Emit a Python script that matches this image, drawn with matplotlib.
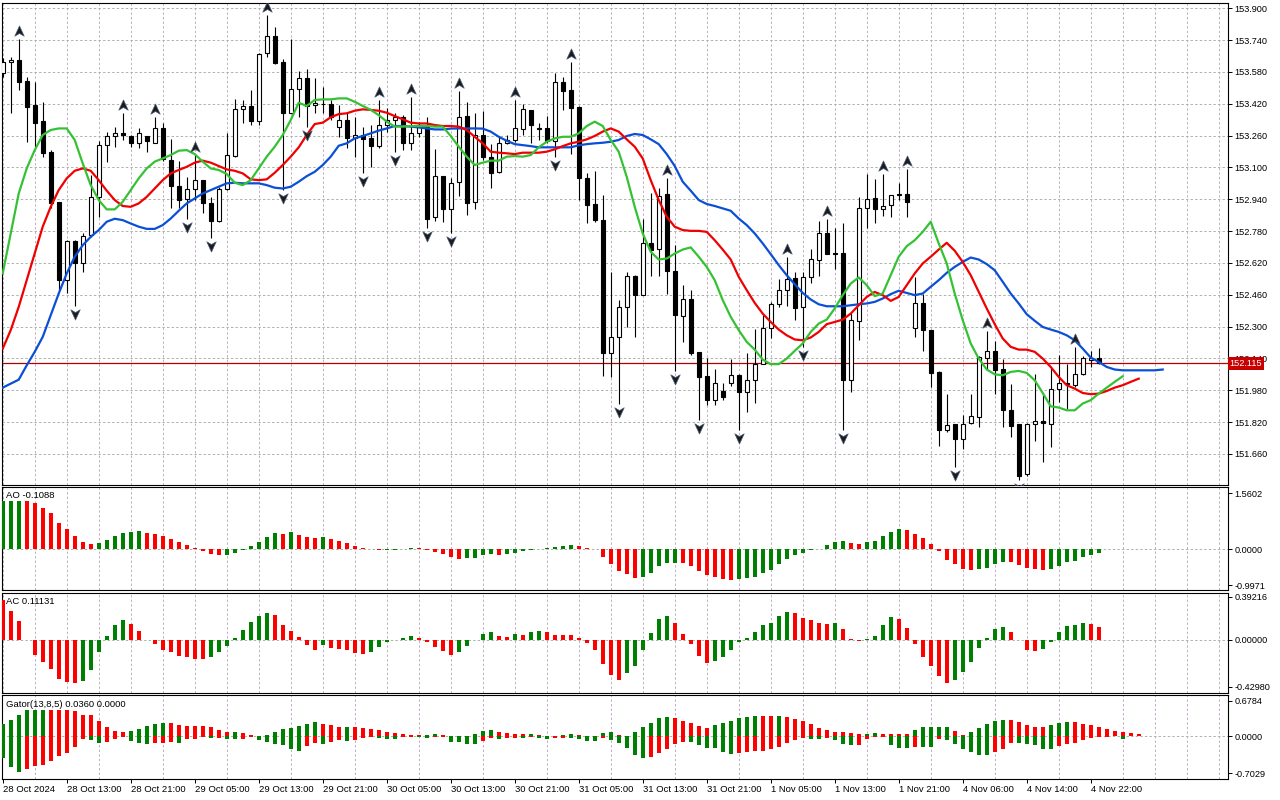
import numpy as np
import matplotlib.pyplot as plt
from matplotlib.path import Path
from matplotlib import transforms

plt.rcParams['font.family'] = ['Liberation Sans', 'DejaVu Sans']
plt.rcParams['font.size'] = 6.6

# ---- hourly candles (28 Oct 05:00 .. 4 Nov 23:00) ----
opens = [153.573, 153.628, 153.640, 153.534, 153.414, 153.333, 153.179, 152.927, 152.533, 152.729,
         152.617, 152.760, 152.949, 153.211, 153.258, 153.271, 153.258, 153.224, 153.258, 153.224,
         153.296, 153.137, 153.009, 152.939, 152.989, 153.036, 152.922, 152.832, 152.989, 153.157,
         153.395, 153.409, 153.335, 153.674, 153.761, 153.632, 153.375, 153.493, 153.548, 153.414,
         153.419, 153.419, 153.301, 153.338, 153.246, 153.261, 153.249, 153.207, 153.313, 153.338,
         153.352, 153.224, 153.271, 153.305, 152.852, 153.057, 152.889, 153.028, 153.358, 152.927,
         153.261, 153.150, 153.078, 153.224, 153.238, 153.291, 153.389, 153.296, 153.296, 153.234,
         153.528, 153.489, 153.402, 153.045, 152.916, 152.838, 152.168, 152.245, 152.399, 152.553,
         152.461, 152.718, 152.692, 152.966, 152.577, 152.352, 152.441, 152.173, 152.050, 151.933,
         151.975, 152.017, 152.055, 151.971, 152.030, 152.114, 152.295, 152.412, 152.483, 152.542,
         152.396, 152.547, 152.637, 152.771, 152.671, 152.671, 152.030, 152.329, 152.894, 152.944,
         152.889, 152.911, 152.963, 152.964, 152.295, 152.416, 152.285, 152.072, 151.782, 151.809,
         151.737, 151.815, 151.845, 152.144, 152.178, 152.089, 151.882, 151.809, 151.557, 151.809,
         151.825, 151.812, 151.988, 152.013, 152.005, 152.060, 152.134, 152.144]
highs = [153.649, 153.657, 153.744, 153.556, 153.531, 153.427, 153.187, 152.927, 152.734, 152.734,
         152.768, 153.061, 153.234, 153.279, 153.305, 153.372, 153.264, 153.296, 153.259, 153.355,
         153.321, 153.241, 153.130, 153.053, 153.162, 153.036, 152.952, 153.003, 153.271, 153.442,
         153.439, 153.489, 153.674, 153.867, 153.808, 153.643, 153.744, 153.586, 153.593, 153.548,
         153.503, 153.439, 153.414, 153.372, 153.355, 153.305, 153.313, 153.439, 153.397, 153.372,
         153.363, 153.456, 153.330, 153.355, 153.191, 153.057, 153.045, 153.486, 153.430, 153.372,
         153.385, 153.217, 153.258, 153.263, 153.439, 153.419, 153.389, 153.321, 153.358, 153.576,
         153.553, 153.632, 153.409, 153.073, 153.083, 152.961, 152.575, 152.436, 152.575, 152.558,
         152.843, 152.969, 152.994, 153.045, 152.709, 152.508, 152.486, 152.173, 152.144, 152.089,
         152.017, 152.139, 152.060, 152.168, 152.290, 152.357, 152.424, 152.537, 152.651, 152.575,
         152.575, 152.692, 152.832, 152.843, 152.793, 152.822, 152.369, 152.952, 153.067, 153.040,
         153.067, 152.961, 153.020, 153.090, 152.547, 152.463, 152.285, 152.077, 151.963, 151.812,
         151.854, 151.960, 152.151, 152.278, 152.228, 152.139, 152.010, 151.812, 151.815, 152.064,
         151.963, 152.097, 152.156, 152.114, 152.198, 152.151, 152.178, 152.190]
lows = [153.556, 153.375, 153.489, 153.229, 153.204, 153.154, 152.894, 152.483, 152.469, 152.402,
        152.575, 152.748, 152.849, 153.129, 153.204, 153.238, 153.201, 153.196, 153.179, 153.221,
        153.134, 152.894, 152.894, 152.843, 152.936, 152.869, 152.743, 152.827, 152.986, 153.154,
        153.325, 153.313, 153.313, 153.654, 153.620, 152.986, 153.372, 153.355, 153.305, 153.372,
        153.372, 153.338, 153.254, 153.196, 153.154, 153.070, 153.103, 153.196, 153.279, 153.179,
        153.187, 153.187, 153.254, 152.793, 152.832, 152.827, 152.768, 152.956, 152.860, 152.889,
        153.137, 152.999, 153.073, 153.217, 153.229, 153.263, 153.221, 153.238, 153.221, 153.154,
        153.389, 153.167, 152.936, 152.822, 152.827, 152.050, 152.047, 151.913, 152.298, 152.245,
        152.458, 152.553, 152.553, 152.466, 152.077, 152.223, 152.156, 151.829, 151.904, 151.904,
        151.929, 152.000, 151.778, 151.871, 151.916, 152.111, 152.240, 152.399, 152.402, 152.332,
        152.198, 152.520, 152.553, 152.664, 152.587, 151.782, 151.971, 152.231, 152.793, 152.822,
        152.855, 152.849, 152.936, 152.852, 152.245, 152.178, 151.996, 151.698, 151.770, 151.594,
        151.686, 151.809, 151.795, 152.084, 151.963, 151.795, 151.745, 151.527, 151.547, 151.725,
        151.619, 151.695, 151.921, 151.888, 151.996, 152.055, 152.097, 152.114]
closes = [153.632, 153.640, 153.531, 153.405, 153.325, 153.174, 152.922, 152.533, 152.729, 152.620,
          152.755, 152.949, 153.211, 153.258, 153.271, 153.261, 153.224, 153.271, 153.234, 153.298,
          153.140, 153.009, 152.936, 152.989, 153.036, 152.919, 152.832, 152.989, 153.162, 153.392,
          153.409, 153.335, 153.670, 153.761, 153.627, 153.375, 153.493, 153.548, 153.409, 153.422,
          153.418, 153.352, 153.338, 153.246, 153.261, 153.241, 153.207, 153.311, 153.338, 153.355,
          153.224, 153.271, 153.305, 152.843, 153.057, 152.889, 153.023, 153.352, 152.922, 153.261,
          153.150, 153.073, 153.224, 153.238, 153.296, 153.392, 153.313, 153.295, 153.234, 153.528,
          153.486, 153.397, 153.045, 152.911, 152.835, 152.168, 152.248, 152.396, 152.553, 152.461,
          152.718, 152.687, 152.956, 152.580, 152.357, 152.441, 152.168, 152.047, 151.933, 152.017,
          151.946, 152.055, 151.971, 152.030, 152.114, 152.295, 152.412, 152.483, 152.537, 152.391,
          152.547, 152.642, 152.771, 152.667, 152.667, 152.033, 152.335, 152.894, 152.939, 152.889,
          152.906, 152.961, 152.964, 152.927, 152.416, 152.285, 152.067, 151.782, 151.804, 151.737,
          151.812, 151.849, 152.148, 152.178, 152.084, 151.882, 151.799, 151.547, 151.809, 151.825,
          151.815, 151.988, 152.017, 152.017, 152.060, 152.144, 152.144, 152.115]
last_price = 152.115

# fractal bars
fractal_up = [2, 15, 19, 24, 33, 47, 51, 57, 64, 71, 83, 98, 103, 110, 113, 123, 134]
fractal_down = [9, 23, 26, 35, 38, 45, 49, 53, 56, 69, 77, 84, 87, 92, 100, 105, 119, 127]

# Alligator (already shifted forward)
jaw = [151.993, 152.013, 152.033, 152.105, 152.173, 152.248, 152.357, 152.466, 152.567, 152.651,
       152.709, 152.751, 152.785, 152.827, 152.842, 152.835, 152.818, 152.802, 152.791, 152.791,
       152.810, 152.843, 152.882, 152.919, 152.944, 152.969, 152.986, 153.003, 153.020, 153.023,
       153.020, 153.020, 153.020, 153.011, 152.998, 152.994, 153.003, 153.028, 153.056, 153.078,
       153.112, 153.154, 153.209, 153.221, 153.246, 153.258, 153.271, 153.285, 153.296, 153.308,
       153.308, 153.305, 153.301, 153.296, 153.291, 153.291, 153.295, 153.296, 153.296, 153.296,
       153.295, 153.280, 153.254, 153.234, 153.217, 153.212, 153.207, 153.201, 153.201, 153.201,
       153.201, 153.201, 153.211, 153.217, 153.221, 153.224, 153.229, 153.238, 153.258, 153.268,
       153.263, 153.241, 153.217, 153.167, 153.107, 153.028, 152.983, 152.936, 152.916, 152.906,
       152.894, 152.882, 152.843, 152.810, 152.768, 152.718, 152.664, 152.609, 152.558, 152.513,
       152.469, 152.436, 152.412, 152.402, 152.402, 152.402, 152.407, 152.412, 152.416, 152.424,
       152.441, 152.463, 152.480, 152.469, 152.458, 152.466, 152.500, 152.533, 152.570, 152.600,
       152.625, 152.647, 152.637, 152.614, 152.583, 152.525, 152.466, 152.416, 152.362, 152.329,
       152.298, 152.285, 152.273, 152.256, 152.231, 152.189, 152.144, 152.122, 152.097, 152.084,
       152.080, 152.080, 152.080, 152.080, 152.080, 152.084]
teeth = [152.189, 152.282, 152.399, 152.533, 152.667, 152.802, 152.902, 152.986, 153.045, 153.083,
         153.095, 153.083, 153.036, 152.983, 152.936, 152.906, 152.902, 152.919, 152.952, 152.994,
         153.036, 153.070, 153.087, 153.103, 153.124, 153.134, 153.124, 153.107, 153.090, 153.083,
         153.070, 153.040, 153.036, 153.040, 153.073, 153.112, 153.154, 153.201, 153.263, 153.318,
         153.325, 153.352, 153.368, 153.372, 153.385, 153.392, 153.389, 153.385, 153.375, 153.358,
         153.342, 153.325, 153.321, 153.321, 153.313, 153.308, 153.308, 153.305, 153.288, 153.254,
         153.221, 153.179, 153.174, 153.171, 153.167, 153.174, 153.174, 153.174, 153.179, 153.191,
         153.207, 153.221, 153.229, 153.241, 153.258, 153.280, 153.296, 153.280, 153.241, 153.204,
         153.145, 153.036, 152.936, 152.852, 152.802, 152.785, 152.781, 152.781, 152.776, 152.734,
         152.687, 152.637, 152.550, 152.483, 152.419, 152.365, 152.323, 152.285, 152.256, 152.235,
         152.231, 152.245, 152.273, 152.312, 152.323, 152.335, 152.365, 152.407, 152.449, 152.474,
         152.458, 152.429, 152.449, 152.508, 152.567, 152.617, 152.651, 152.687, 152.721, 152.681,
         152.625, 152.558, 152.474, 152.391, 152.312, 152.240, 152.198, 152.184, 152.184, 152.173,
         152.139, 152.097, 152.047, 152.005, 151.988, 151.966, 151.960, 151.963, 151.976, 151.993,
         152.005, 152.022, 152.038]
lips = [152.567, 152.768, 152.969, 153.095, 153.187, 153.263, 153.288, 153.296, 153.296, 153.238,
        153.120, 153.011, 152.936, 152.889, 152.889, 152.927, 152.986, 153.045, 153.095, 153.129,
        153.145, 153.162, 153.184, 153.187, 153.167, 153.129, 153.095, 153.087, 153.067, 153.023,
        153.011, 153.036, 153.095, 153.154, 153.204, 153.263, 153.338, 153.425, 153.409, 153.439,
        153.442, 153.442, 153.447, 153.447, 153.430, 153.409, 153.389, 153.363, 153.330, 153.305,
        153.305, 153.308, 153.308, 153.308, 153.305, 153.305, 153.258, 153.204, 153.154, 153.112,
        153.124, 153.134, 153.134, 153.154, 153.157, 153.154, 153.162, 153.201, 153.229, 153.246,
        153.254, 153.254, 153.271, 153.308, 153.330, 153.308, 153.238, 153.179, 153.053, 152.902,
        152.768, 152.676, 152.637, 152.642, 152.667, 152.687, 152.698, 152.651, 152.600, 152.533,
        152.433, 152.349, 152.282, 152.223, 152.184, 152.134, 152.111, 152.111, 152.139, 152.178,
        152.215, 152.273, 152.315, 152.335, 152.391, 152.458, 152.516, 152.547, 152.508, 152.453,
        152.466, 152.558, 152.651, 152.704, 152.734, 152.776, 152.827, 152.718, 152.617, 152.466,
        152.332, 152.215, 152.139, 152.084, 152.060, 152.055, 152.072, 152.077, 152.067, 152.030,
        151.966, 151.899, 151.893, 151.879, 151.879, 151.913, 151.930, 151.963, 151.993, 152.022,
        152.050]

# Awesome / Accelerator oscillators
ao = [1.34, 1.35, 1.36, 1.35, 1.28, 1.14, 1.00, 0.74, 0.56, 0.37,
      0.20, 0.14, 0.17, 0.25, 0.36, 0.45, 0.48, 0.50, 0.465, 0.42,
      0.36, 0.28, 0.20, 0.11, 0.03, -0.05, -0.13, -0.17, -0.16, -0.10,
      -0.02, 0.09, 0.20, 0.335, 0.45, 0.42, 0.48, 0.39, 0.33, 0.32,
      0.335, 0.28, 0.22, 0.17, 0.08, 0.03, 0.005, -0.01, -0.008, -0.006,
      0.002, 0.028, 0.025, -0.02, -0.07, -0.14, -0.21, -0.28, -0.25, -0.245,
      -0.17, -0.14, -0.17, -0.14, -0.09, -0.04, -0.02, 0.02, 0.05, 0.065,
      0.09, 0.11, 0.105, 0.05, -0.005, -0.22, -0.42, -0.60, -0.70, -0.81,
      -0.76, -0.65, -0.48, -0.39, -0.37, -0.39, -0.48, -0.61, -0.73, -0.78,
      -0.84, -0.86, -0.84, -0.80, -0.76, -0.67, -0.58, -0.42, -0.28, -0.17,
      -0.11, -0.02, 0.02, 0.11, 0.20, 0.22, 0.17, 0.14, 0.20, 0.23,
      0.37, 0.48, 0.56, 0.53, 0.42, 0.31, 0.14, -0.04, -0.30, -0.42,
      -0.54, -0.58, -0.56, -0.51, -0.42, -0.35, -0.36, -0.45, -0.52, -0.56,
      -0.58, -0.56, -0.47, -0.35, -0.33, -0.21, -0.17, -0.1088]
ac = [0.359, 0.265, 0.174, -0.003, -0.137, -0.207, -0.265, -0.356, -0.390, -0.400,
      -0.380, -0.274, -0.116, 0.030, 0.137, 0.183, 0.146, 0.082, -0.003, -0.043,
      -0.091, -0.116, -0.146, -0.161, -0.172, -0.176, -0.161, -0.116, -0.055, 0.018,
      0.091, 0.158, 0.213, 0.244, 0.228, 0.131, 0.082, 0.027, -0.052, -0.091,
      -0.052, -0.079, -0.085, -0.097, -0.125, -0.127, -0.116, -0.070, -0.024, -0.002,
      0.015, 0.037, 0.018, -0.021, -0.070, -0.107, -0.143, -0.116, -0.061, -0.003,
      0.055, 0.073, 0.037, 0.027, 0.055, 0.046, 0.073, 0.082, 0.073, 0.046,
      0.045, 0.044, 0.018, -0.030, -0.097, -0.225, -0.326, -0.365, -0.307, -0.244,
      -0.091, 0.064, 0.192, 0.219, 0.152, 0.055, -0.043, -0.152, -0.216, -0.192,
      -0.161, -0.097, -0.024, 0.018, 0.073, 0.131, 0.155, 0.219, 0.256, 0.247,
      0.201, 0.177, 0.155, 0.145, 0.148, 0.100, 0.003, -0.012, 0.006, 0.037,
      0.137, 0.204, 0.192, 0.107, -0.043, -0.161, -0.244, -0.335, -0.399, -0.365,
      -0.298, -0.207, -0.079, 0.018, 0.100, 0.119, 0.073, -0.003, -0.097, -0.107,
      -0.088, -0.024, 0.073, 0.128, 0.137, 0.155, 0.146, 0.11131]

# Gator oscillator
gator_up = [0.235, 0.31, 0.41, 0.50, 0.505, 0.51, 0.505, 0.50, 0.495, 0.49,
            0.41, 0.405, 0.30, 0.17, 0.108, 0.082, 0.108, 0.14, 0.197, 0.235,
            0.26, 0.247, 0.216, 0.203, 0.197, 0.195, 0.17, 0.12, 0.076, 0.078,
            0.057, 0.02, 0.01, 0.02, 0.076, 0.14, 0.152, 0.197, 0.228, 0.27,
            0.235, 0.216, 0.18, 0.182, 0.171, 0.152, 0.14, 0.12, 0.076, 0.057,
            0.035, 0.03, 0.025, 0.028, 0.045, 0.02, 0.005, 0.004, 0.003, 0.045,
            0.095, 0.12, 0.076, 0.057, 0.038, 0.035, 0.04, 0.02, 0.005, 0.004,
            0.02, 0.04, 0.02, 0.01, 0.008, 0.057, 0.076, 0.02, 0.01, 0.076,
            0.178, 0.254, 0.35, 0.37, 0.35, 0.29, 0.254, 0.197, 0.16, 0.215,
            0.254, 0.29, 0.35, 0.37, 0.395, 0.393, 0.39, 0.392, 0.37, 0.33,
            0.29, 0.235, 0.16, 0.12, 0.076, 0.075, 0.06, 0.04, 0.045, 0.057,
            0.05, 0.047, 0.044, 0.043, 0.12, 0.178, 0.179, 0.18, 0.181, 0.10,
            0.02, 0.076, 0.158, 0.235, 0.298, 0.31, 0.308, 0.27, 0.216, 0.178,
            0.177, 0.215, 0.254, 0.27, 0.269, 0.235, 0.216, 0.178, 0.14, 0.10,
            0.076, 0.057, 0.036]
gator_down = [-0.42, -0.58, -0.67, -0.63, -0.565, -0.545, -0.47, -0.37, -0.325, -0.20,
              -0.045, -0.065, -0.127, -0.10, -0.045, -0.008, -0.08, -0.127, -0.14, -0.133,
              -0.127, -0.115, -0.12, -0.057, -0.05, -0.02, -0.025, -0.024, -0.057, -0.058,
              -0.057, -0.01, -0.07, -0.10, -0.14, -0.165, -0.24, -0.27, -0.178, -0.133,
              -0.146, -0.10, -0.07, -0.083, -0.07, -0.038, -0.019, -0.032, -0.05, -0.057,
              -0.01, -0.005, -0.013, -0.025, -0.01, -0.005, -0.10, -0.105, -0.14, -0.152,
              -0.082, -0.035, -0.045, -0.03, -0.025, -0.027, -0.02, -0.025, -0.045, -0.04,
              -0.025, -0.027, -0.045, -0.082, -0.085, -0.03, -0.063, -0.12, -0.215, -0.355,
              -0.406, -0.387, -0.31, -0.235, -0.146, -0.10, -0.103, -0.165, -0.222, -0.225,
              -0.29, -0.336, -0.31, -0.29, -0.273, -0.27, -0.25, -0.197, -0.12, -0.063,
              -0.025, -0.045, -0.046, -0.025, -0.063, -0.14, -0.17, -0.158, -0.045, -0.005,
              -0.004, -0.158, -0.215, -0.216, -0.197, -0.198, -0.199, -0.045, -0.063, -0.14,
              -0.25, -0.30, -0.35, -0.352, -0.29, -0.235, -0.118, -0.12, -0.14, -0.158,
              -0.235, -0.236, -0.178, -0.14, -0.12, -0.063, -0.025, -0.01, -0.005, -0.002,
              -0.045, -0.001, 0.0]

time_labels = ['28 Oct 2024', '28 Oct 13:00', '28 Oct 21:00', '29 Oct 05:00', '29 Oct 13:00',
               '29 Oct 21:00', '30 Oct 05:00', '30 Oct 13:00', '30 Oct 21:00', '31 Oct 05:00',
               '31 Oct 13:00', '31 Oct 21:00', '1 Nov 05:00', '1 Nov 13:00', '1 Nov 21:00',
               '4 Nov 06:00', '4 Nov 14:00', '4 Nov 22:00']
price_ticks = [153.90, 153.74, 153.58, 153.42, 153.26, 153.10, 152.94, 152.78,
               152.62, 152.46, 152.30, 152.14, 151.98, 151.82, 151.66]

GREEN, RED = '#008000', '#ff0000'
W, H = 1280, 800
fig = plt.figure(figsize=(12.8, 8), dpi=100)
fig.patch.set_facecolor('white')


def add_panel(top, bottom, ylim):
    ax = fig.add_axes([2 / W, 1 - bottom / H, 1226 / W, (bottom - top) / H])
    ax.set_xlim(-0.09, 153.16)
    ax.set_ylim(*ylim)
    ax.set_xticks([])
    ax.set_xticks(np.arange(0, 156, 4), minor=True)
    ax.tick_params(axis='x', which='minor', length=0)
    ax.grid(axis='x', which='minor', color='#c4afc4', linestyle=(0, (2.5, 2.2)), linewidth=0.7)
    ax.set_axisbelow(True)
    ax.yaxis.tick_right()
    ax.tick_params(axis='y', direction='out', length=3, width=0.7, pad=1.5, labelsize=6.6)
    for s in ax.spines.values():
        s.set_linewidth(0.8)
        s.set_color('black')
    return ax


def trend_colors(vals, first_up=True, use_abs=False):
    v = np.abs(np.asarray(vals)) if use_abs else np.asarray(vals)
    up = np.r_[first_up, v[1:] > v[:-1]]
    return np.where(up, GREEN, RED)


# ---- main price panel ----
ax = add_panel(2.5, 485.3, (151.502, 153.929))
ax.set_yticks(price_ticks)
ax.set_yticklabels([f'{p:.3f}' for p in price_ticks])
ax.yaxis.grid(True, color='#a9b5a9', linestyle=(0, (2.5, 2.2)), linewidth=0.7)

o, h, l, c = map(np.asarray, (opens, highs, lows, closes))
x = np.arange(len(o))
ax.axhline(last_price, color='#b40000', lw=0.9, zorder=2)
ax.vlines(x, l, h, color='black', lw=0.8, zorder=3)
bull = c >= o
lo = np.minimum(o, c)
hgt = np.maximum(np.abs(c - o), 0.0015)
ax.bar(x[bull], hgt[bull], bottom=lo[bull], width=0.5, facecolor='white',
       edgecolor='black', lw=0.8, zorder=4)
ax.bar(x[~bull], hgt[~bull], bottom=lo[~bull], width=0.5, facecolor='black',
       edgecolor='black', lw=0.8, zorder=4)

ax.plot(np.arange(len(jaw)), jaw, color='#0a4fd6', lw=1.6, zorder=5)
ax.plot(np.arange(len(teeth)), teeth, color='#f00000', lw=1.6, zorder=5)
ax.plot(np.arange(len(lips)), lips, color='#34c234', lw=1.6, zorder=5)

up_arrow = Path([(0, 1), (0.85, -0.85), (0, -0.35), (-0.85, -0.85), (0, 1)],
                [Path.MOVETO, Path.LINETO, Path.LINETO, Path.LINETO, Path.CLOSEPOLY])
down_arrow = Path([(0, -1), (0.85, 0.85), (0, 0.35), (-0.85, 0.85), (0, -1)],
                  [Path.MOVETO, Path.LINETO, Path.LINETO, Path.LINETO, Path.CLOSEPOLY])
up_tr = transforms.offset_copy(ax.transData, fig=fig, y=8, units='dots')
dn_tr = transforms.offset_copy(ax.transData, fig=fig, y=-8, units='dots')
ax.plot(fractal_up, h[fractal_up], ls='none', marker=up_arrow, ms=8, mfc='#1c1c1c',
        mec='#4a5a7a', mew=0.5, transform=up_tr, zorder=6)
ax.plot(fractal_down, l[fractal_down], ls='none', marker=down_arrow, ms=8, mfc='#1c1c1c',
        mec='#4a5a7a', mew=0.5, transform=dn_tr, zorder=6)

ax.text(1.0013, last_price, f'{last_price:.3f}', color='white', fontsize=6.6,
        ha='left', va='center', transform=transforms.blended_transform_factory(ax.transAxes, ax.transData),
        bbox=dict(boxstyle='square,pad=0.22', fc='#c80000', ec='none'), zorder=10, clip_on=False)

# ---- AO ----
ax_ao = add_panel(487, 590, (-1.136, 1.739))
ax_ao.set_yticks([1.5602, 0.0, -0.9971])
ax_ao.set_yticklabels(['1.5602', '0.0000', '-0.9971'])
ax_ao.axhline(0, color='#a9b5a9', linestyle=(0, (2.5, 2.2)), lw=0.7, zorder=1)
ax_ao.bar(np.arange(len(ao)), ao, width=0.5, color=trend_colors(ao, True), zorder=3)
fig.text(6 / W, 1 - 496 / H, f'AO {ao[-1]:.4f}', ha='left', va='center', fontsize=6.8)

# ---- AC ----
ax_ac = add_panel(592.7, 692.7, (-0.484, 0.429))
ax_ac.set_yticks([0.39216, 0.0, -0.42980])
ax_ac.set_yticklabels(['0.39216', '0.00000', '-0.42980'])
ax_ac.axhline(0, color='#a9b5a9', linestyle=(0, (2.5, 2.2)), lw=0.7, zorder=1)
ax_ac.bar(np.arange(len(ac)), ac, width=0.5, color=trend_colors(ac, False), zorder=3)
fig.text(6 / W, 1 - 601.7 / H, f'AC {ac[-1]:.5f}', ha='left', va='center', fontsize=6.8)

# ---- Gator ----
ax_g = add_panel(695, 779, (-0.812, 0.786))
ax_g.set_yticks([0.6784, 0.0, -0.7029])
ax_g.set_yticklabels(['0.6784', '0.0000', '-0.7029'])
ax_g.axhline(0, color='#a9b5a9', linestyle=(0, (2.5, 2.2)), lw=0.7, zorder=1)
gx = np.arange(len(gator_up))
ax_g.bar(gx, gator_up, width=0.5, color=trend_colors(gator_up, True), zorder=3)
ax_g.bar(gx, gator_down, width=0.5, color=trend_colors(gator_down, True, use_abs=True), zorder=3)
fig.text(6 / W, 1 - 704.5 / H, f'Gator(13,8,5) {gator_up[-1]:.4f} {abs(gator_down[-1]):.4f}',
         ha='left', va='center', fontsize=6.8)
ax_g.set_xticks(np.arange(0, 8 * len(time_labels), 8))
ax_g.set_xticklabels(time_labels, ha='left', fontsize=6.8)
ax_g.tick_params(axis='x', which='major', direction='out', length=3, width=0.7, pad=1.5)

fig.savefig('out.png', dpi=100)
